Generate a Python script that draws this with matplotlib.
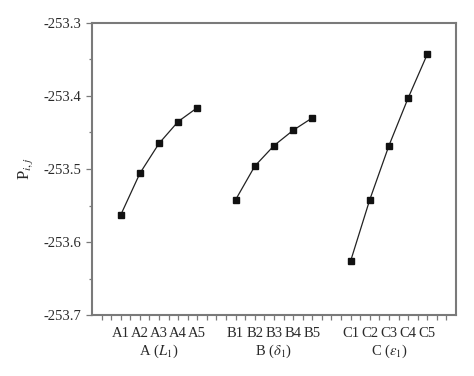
import numpy as np
import matplotlib
matplotlib.use("Agg")
import matplotlib.pyplot as plt

plt.rcParams['font.family'] = ['Liberation Serif', 'DejaVu Serif']
plt.rcParams['mathtext.fontset'] = 'stix'

# Data
groups = ["A ($L_1$)", "B ($\\delta_1$)", "C ($\\varepsilon_1$)"]
levels_A = ["A1", "A2", "A3", "A4", "A5"]
levels_B = ["B1", "B2", "B3", "B4", "B5"]
levels_C = ["C1", "C2", "C3", "C4", "C5"]
values_A = [-253.563, -253.506, -253.465, -253.435, -253.416]
values_B = [-253.542, -253.496, -253.468, -253.447, -253.430]
values_C = [-253.626, -253.542, -253.468, -253.403, -253.343]
y_ticks = [-253.7, -253.6, -253.5, -253.4, -253.3]

text_color = "#2a2a2a"
spine_color = "#7a7a7a"

fig = plt.figure(figsize=(4.74, 3.76), dpi=100)
ax = fig.add_axes([0.194, 0.162, 0.768, 0.777])

all_labels = []
all_pos = []
group_centers = []
start = 1
for levels, vals in [(levels_A, values_A), (levels_B, values_B), (levels_C, values_C)]:
    xs = np.arange(start, start + len(levels))
    ax.plot(xs, vals, color="#222222", lw=0.9, marker="s", markersize=4.5,
            markerfacecolor="#111111", markeredgecolor="#111111")
    all_labels += levels
    all_pos += list(xs)
    group_centers.append(xs.mean())
    start += len(levels) + 1

ax.set_xlim(-0.5, 18.5)
ax.set_ylim(-253.7, -253.3)

# x ticks every 0.5, labels only at level positions
tick_pos = np.arange(0, 18.01, 0.5)
tick_labels = []
for t in tick_pos:
    if t in all_pos:
        tick_labels.append(all_labels[all_pos.index(t)])
    else:
        tick_labels.append("")
ax.set_xticks(tick_pos)
ax.set_xticklabels(tick_labels, fontsize=10.5, color=text_color)
ax.tick_params(axis='x', direction='out', length=3.5, width=0.9, color=spine_color, pad=5)

ax.set_yticks(y_ticks)
ax.set_yticklabels([f"{v:.1f}" for v in y_ticks], fontsize=10.5, color=text_color)
ax.set_yticks(np.arange(-253.65, -253.3, 0.1), minor=True)
ax.tick_params(axis='y', which='major', direction='out', length=4, width=0.9, color=spine_color)
ax.tick_params(axis='y', which='minor', direction='out', length=2, width=0.9, color=spine_color)

for gc, g in zip(group_centers, groups):
    ax.text(gc, -0.095, g, transform=ax.get_xaxis_transform(), ha='center', va='top',
            fontsize=10.5, color=text_color)

ax.set_ylabel("P$_{i,j}$", fontsize=12, color=text_color, labelpad=6)

for s in ax.spines.values():
    s.set_color(spine_color)
    s.set_linewidth(1.5)

fig.savefig("out.png", dpi=100)
